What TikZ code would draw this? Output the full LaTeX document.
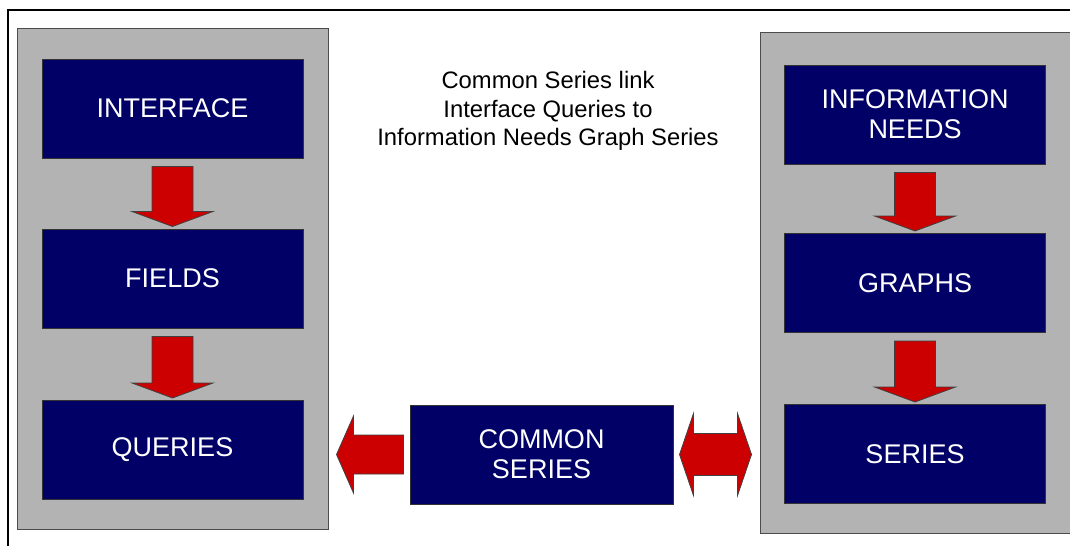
\documentclass[tikz,border=0pt]{standalone}
\usepackage{fontspec}
\setmainfont{Liberation Sans}
\usetikzlibrary{calc}
\definecolor{navy}{RGB}{0,0,102}
\definecolor{panelgray}{RGB}{179,179,179}
\definecolor{arrowred}{RGB}{204,0,0}
\begin{document}
\begin{tikzpicture}[x=1pt,y=-1pt,
  panel/.style={draw=black!70,line width=1pt,fill=panelgray,minimum height=501pt,inner sep=0pt},
  bluebox/.style={draw=black!80,line width=1pt,fill=navy,text=white,minimum width=261pt,minimum height=99pt,inner sep=0pt,align=center,font=\fontsize{27}{30}\selectfont},
  blockarrow/.style={fill=arrowred,draw=black!75,line width=0.8pt,line join=miter}]
\useasboundingbox (0,0) rectangle (1070,546);
% frame
\draw[line width=2pt] (8,546) -- (8,10) -- (1072,10);
% panels
\node[panel,minimum width=311pt] (lp) at (172.5,278.5) {};
\node[panel,minimum width=318pt] (rp) at (919,282.5) {};
% boxes
\node[bluebox] (interface) at (172.5,108.5) {INTERFACE};
\node[bluebox] (fields) at (172.5,278.5) {FIELDS};
\node[bluebox] (queries) at (172.5,450) {QUERIES};
\node[bluebox] (info) at (915,114.5) {INFORMATION\\NEEDS};
\node[bluebox] (graphs) at (915,283) {GRAPHS};
\node[bluebox] (series) at (915,454) {SERIES};
\node[bluebox,minimum width=263pt] (common) at (541.5,454.5) {COMMON\\SERIES};
% title
\node[align=center,font=\fontsize{23.8}{28.7}\selectfont] (title) at (548,111) {Common Series link\\Interface Queries to\\Information Needs Graph Series};
% down arrows
\newcommand{\blkdown}[2]{%
  \path ($(#1.south)+(0,8)$) coordinate (s) ($(#2.north)+(0,-2)$) coordinate (t);
  \draw[blockarrow] ($(s)+(-20.5,0)$) -- ($(s)+(20.5,0)$) -- ($(t)+(20.5,-15)$) -- ($(t)+(40.5,-15)$) -- (t) -- ($(t)+(-40.5,-15)$) -- ($(t)+(-20.5,-15)$) -- cycle;}
\blkdown{interface}{fields}
\blkdown{fields}{queries}
\blkdown{info}{graphs}
\blkdown{graphs}{series}
% left arrow common -> queries
\path ($(common.west)+(-6,0)$) coordinate (ls) ($(lp.east |- common.west)+(8,0)$) coordinate (lt);
\draw[blockarrow] ($(ls)+(0,-19.5)$) -- ($(lt)+(17,-19.5)$) -- ($(lt)+(17,-38.5)$) -- (lt) -- ($(lt)+(17,38.5)$) -- ($(lt)+(17,19.5)$) -- ($(ls)+(0,19.5)$) -- cycle;
% double arrow common <-> series
\path ($(common.east)+(6,0)$) coordinate (da) ($(rp.west |- common.east)+(-8,0)$) coordinate (db);
\draw[blockarrow] (da) -- ($(da)+(14,-41)$) -- ($(da)+(14,-21)$) -- ($(db)+(-14,-21)$) -- ($(db)+(-14,-41)$) -- (db) -- ($(db)+(-14,41)$) -- ($(db)+(-14,21)$) -- ($(da)+(14,21)$) -- ($(da)+(14,41)$) -- cycle;
\end{tikzpicture}
\end{document}
